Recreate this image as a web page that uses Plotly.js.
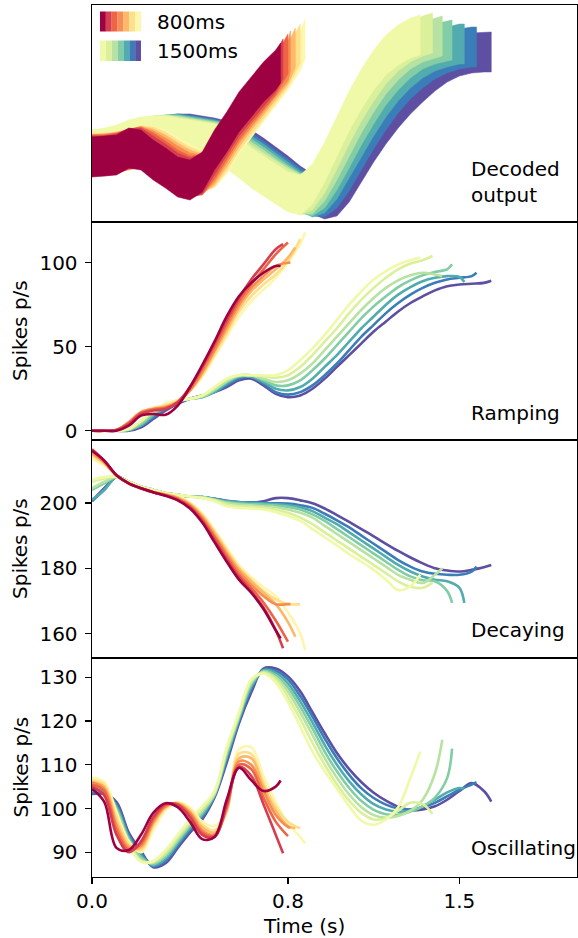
<!DOCTYPE html>
<html><head><meta charset="utf-8">
<script src="https://cdn.plot.ly/plotly-3.0.1.min.js"></script>
<style>html,body{margin:0;padding:0;background:#fff;} #chart{width:578px;height:938px;}</style>
</head><body><div id="chart"></div>
<script>
// ---- shared time grid (s) ----
const tGrid = [0,0.05,0.1,0.15,0.2,0.25,0.3,0.35,0.4,0.45,0.5,0.55,0.6,0.65,0.7,0.75,0.8,0.85,0.9,0.95,1.0,1.05,1.1,1.15,1.2,1.25,1.3,1.35,1.4,1.45,1.5,1.55,1.6];

// trial end times (s), ordered short -> long
const durations800  = [0.77,0.78,0.80,0.81,0.83,0.85,0.87];
const durations1500 = [1.34,1.39,1.43,1.47,1.52,1.57,1.63];
const colors800  = ['#9e0142','#d53e4f','#ee6445','#f88d52','#fdb869','#fee08b','#fff6ad'];
const colors1500 = ['#f0f9a8','#daf09a','#b7e2a2','#82cda5','#51abaf','#3b7db8','#5e4fa2'];
const legendLabels = ['800ms','1500ms'];
const panelLabels = ['Decoded<br>output','Ramping','Decaying','Oscillating'];
const yTitle = 'Spikes p/s';
const xTitle = 'Time (s)';
const xTickVals = [0,0.8,1.5];
const xTickText = ['0.0','0.8','1.5'];

// ---- Decoded output (arbitrary units), last value is at trial end ----
const decodeSpread = 20;
const decoded800 = [
 [65,66,67,74,72,62,54,45,42,50,72,90,110,125,140,152,159],
 [66,66,68,73,74,66,58,49,44,48,67,86,106,121,136,150,163],
 [67,67,69,73,75,69,61,52,46,47,63,83,102,118,133,147,168],
 [67,68,69,73,75,71,64,56,49,47,60,79,99,115,130,145,161,171],
 [68,68,70,72,76,73,67,59,52,48,57,75,95,112,127,142,158,174],
 [68,69,70,72,76,75,70,62,55,50,55,71,91,108,124,139,155,178],
 [69,69,70,72,76,76,72,65,58,52,54,68,88,105,121,136,152,171,183]
];
const decoded1500 = [
 [72,74,77,82,85,86,86,84,82,80,78,73,64,54,46,38,30,27,38,60,86,111,133,152,167,177,184,187],
 [72,73,76,80,84,86,87,85,83,81,79,75,67,57,49,41,33,27,32,49,73,98,121,141,158,171,180,186,189],
 [71,72,75,79,83,86,87,86,84,82,80,77,70,60,52,43,35,28,28,41,62,86,109,130,148,162,173,180,184,186],
 [70,71,74,78,82,85,87,87,85,83,81,78,72,63,55,46,37,29,26,34,52,74,97,118,137,152,164,173,178,181,182],
 [70,71,73,77,81,84,87,88,86,84,82,79,74,66,58,49,40,31,25,29,43,63,85,106,125,141,154,164,171,175,178,178],
 [69,70,72,76,80,83,86,88,87,85,83,80,76,69,61,52,43,34,26,25,34,51,72,93,112,129,143,154,163,169,173,175,175],
 [68,69,71,75,79,82,85,88,88,86,84,81,78,72,64,55,46,36,28,23,26,40,60,80,98,114,128,140,151,160,166,169,170,170]
];

// ---- Ramping (spikes/s) ----
const ramping800 = [
 [0,0,0,3,9,10,9.5,15,26,39,53,68,80,88,94,98,98],
 [0,0,0.5,4,10,12,13,17,26,38,52,66,79,90,99,108,111],
 [0,0,0.5,4.5,10.5,12.5,13.5,17,25,37,50,64,77,87,96,105,112],
 [0,0,0.5,5,11,13,14,17,24,35,48,62,75,85,92,98,100,100],
 [0,0,0.5,5,11,13,14.5,17.5,24,34,47,60,73,83,90,96,103,109],
 [0,0,0.5,5,11,13.5,15,18,24,33,45,58,71,80,87,93,101,114],
 [0,0,0.5,5,11,13.5,15,18,23.5,32,44,56,68,77,84,91,100,111,118]
];
const ramping1500 = [
 [0,0,0,1,6,12,16,18,19,21,26,31,33,33,33,33,36,42,49,57,66,75,83,90,95,99,101.5,103],
 [0,0,0,1,6,12,16,18,19,21,25.5,30.5,33,33,32.5,31.5,33,38,45,53,61,70,78,85,91,96,99.5,101.5,104],
 [0,0,0,1,5,11,15,18,19,20.5,24.5,29.5,33,33,31,29,30,34,40,48,56,64,72,79,85,89.5,92.5,94,93,92],
 [0,0,0,0.5,4,10,15,18,19,20,24,29,32.5,33,30,27,27,30,36,43,51,59,67,74,80,85.5,89.5,92.5,94.5,96,99],
 [0,0,0,0.5,3,9,14,17,19,20,23,28,32,32,29,25,24,26,31,38,45,53,61,68,75,81,85.5,89,91,92,91.5,88.5],
 [0,0,0,0.5,3,8,13,17,19,21,23,27,31,32,28,23,21.5,23,27,33,40,48,56,63,70,76,81,85,88,90,91,92,94],
 [0,0,0,0,2,7,12,16,19,21,23,26,30,31,27,22,20,21,25,31,38,45,52,59,65,71,76,80,83.5,86,87,87.5,88,89.3]
];

// ---- Decaying (spikes/s) ----
const decaying800 = [
 [216,213,208.5,206,204.5,203.3,202.2,200.8,198.3,194,188,182,176.5,172.5,167.5,161,158.5],
 [216.5,213,208.5,206,204.5,203.3,202.3,201,198.7,194.5,188.7,182.7,177.3,173,168,161,155.5],
 [216,212.8,208.5,206,204.5,203.3,202.4,201.2,199,195,189.5,183.5,178,174,169.5,164,157.5],
 [215.5,212.5,208.5,206,204.5,203.3,202.5,201.4,199.3,195.5,190,184.3,179,175,171.5,169,169,169],
 [215,212.3,208.5,206,204.5,203.4,202.6,201.6,199.6,196,190.8,185,179.8,176,172.5,169,163.5,159],
 [214.5,212,208.5,206,204.5,203.4,202.7,201.8,199.9,196.4,191.3,185.7,180.3,176.5,173,170.5,169,169],
 [213.5,211.5,208.5,206,204.5,203.5,202.8,202,200.2,196.8,191.8,186.3,181,177.3,174.2,171.5,166.5,160,155]
];
const decaying1500 = [
 [207,208,208,206.5,205,204,203,202.5,202,201.5,200.5,199,198.5,198.3,198,197.2,196,194.5,192,189.5,187,184.3,182,179.5,176.5,173.3,174.5,178],
 [206.5,207.5,208,206.5,205,204,203,202.5,202,201.5,200.8,199.5,199,198.8,198.5,198,197,195.5,193.5,191,188.5,186,183.5,181,178.5,176,174.3,174,175.6],
 [204.5,206.5,208,206.5,205,204,203,202.5,202,201.8,201,200,199.5,199.3,199,198.7,198,197,195.5,193,190.5,188,185.5,183,180.5,178,176.5,175.5,178,180],
 [204,206,208,206.5,205,204,203,202.5,202,201.8,201,200.3,199.8,199.6,199.5,199.2,198.8,198,196.5,194.5,192,189.5,187,184.5,182,179.5,177.5,176.3,176,173,169.4],
 [201,204,208,206.5,205,204,203,202.5,202,201.8,201.2,200.5,200.2,200,199.8,199.6,199.3,198.7,197.5,195.5,193.5,191,188.5,186,183.5,181,179,177.5,176.5,176,174,169.4],
 [200.6,204,208,206.5,205,204,203,202.5,202,201.8,201.3,200.7,200.3,200.2,200,199.9,199.8,199.3,198.5,196.7,194.7,192.5,190,187.5,185,182.5,180.5,179,178.3,178,178,179,180.5],
 [200.6,204.5,208,206.5,205,204,203,202.5,202,201.8,201.3,200.6,200.2,200,200.5,201.5,201.5,200.8,199.9,198.3,196.3,194.2,192,189.8,187.5,185.3,183.3,181.5,180,179.3,179,179.5,180.3,181]
];

// ---- Oscillating (spikes/s) ----
const oscillating800 = [
 [104.5,101.5,91,90.5,94,99,101.2,100.3,97,93,93.5,102,109.3,106.5,104,105,106.4],
 [105,103,94,90,92.5,98,101,100.8,98,94,93.5,101,109.5,107.5,101,94,89.8],
 [105.5,104,95,90.5,92,97.5,100.8,101,98.5,94.5,93.8,100.5,110,109,102.5,97,93.7],
 [106,104.5,96,91,91.5,97,100.5,101,99,95,94,100,110.8,110,104,98.5,95.8,95.6],
 [106,105,97,91.5,91,96.5,100.3,101.2,99.3,95.7,94.5,99.5,111.5,111.5,105,99.5,96,95.5],
 [106.5,105.5,98,92,90.5,96,100,101.3,99.8,96.3,95,99.5,112.5,112.5,106,100.5,97,95.5],
 [107,106,99,92.5,90,95,99.5,101.5,100.2,97,96,99.5,113.5,114,107.5,101.5,96.5,93.5,92]
];
const oscillating1500 = [
 [107,106,99,91.5,87.8,88,90.5,94,97.5,100.5,104,114,122,129.5,130.8,128.8,124.3,118.7,113,108.5,104.5,100.5,97.2,96.3,97.5,100.3,107,113],
 [106.5,105.5,99,92,88,87.8,90,93.5,97,100,103.7,113.5,121.6,129.2,131,129.5,125.5,120.5,115,110,105.5,101.8,99,97.5,97.8,99.5,101.3,101,98.8],
 [106,105,99.5,92.5,88.3,87.6,89.5,93,96.5,99.5,103.3,113,121.2,128.8,131.2,130,126.7,122,116.8,111.5,107,103.2,100.3,98.5,97.9,98.3,99.5,102,108,115.7],
 [105,104.5,100,93,88.8,87.3,89,92.5,96,99,103.2,112.3,120.8,128.3,131.4,130.5,127.7,123.3,118.3,113,108.5,104.7,101.7,99.7,98.7,98.6,99.3,100.5,102.5,107,113.7],
 [104,104,100.5,93.5,89.3,87,88.5,92,95.5,98.5,103,111.8,120.4,127.8,131.6,131,128.6,124.5,119.7,114.5,110,106.2,103.2,101,99.8,99.3,99.5,100.5,102,103.7,104.7,104.5],
 [103.5,103.5,101,94,89.8,86.8,88,91.5,95,98,102.8,111.2,120,127.2,131.8,131.5,129.5,125.7,121,116,111.5,107.7,104.6,102.4,100.9,100,99.8,100.3,101.3,102.8,104.3,105.5,106],
 [103.3,103.3,101.5,94.5,90.3,86.6,87.5,91,94.5,97.5,102.5,110.5,119.5,126.5,132,132,130.2,126.8,122,117.2,112.7,109,106,103.6,101.8,100.4,99.6,99.8,100.5,102,104,105.8,104,101.6]
];

// ---------- build ----------
const FONT = 'DejaVu Sans, Verdana, sans-serif';
const FS = 20;
const W = 578, H = 938, ML = 92, MR = 1, MT = 5, MB = 61;
const PW = W - ML - MR, PH = H - MT - MB;
const px2x = p => (p - ML) / PW;
const px2y = p => (H - MB - p) / PH;

function timesFor(vals, end) {
  const xs = tGrid.slice(0, vals.length - 1);
  xs.push(end);
  return xs;
}
const allDur = durations800.concat(durations1500);
const allCol = colors800.concat(colors1500);

const traces = [];
function addLines(set800, set1500, yaxis) {
  const all = set800.concat(set1500);
  for (let k = all.length - 1; k >= 0; k--) {
    traces.push({
      type: 'scatter', mode: 'lines', xaxis: yaxis.replace('y','x'), yaxis: yaxis,
      x: timesFor(all[k], allDur[k]), y: all[k],
      line: {color: allCol[k], width: 2.6, shape: 'spline', smoothing: 1},
      hoverinfo: 'skip', showlegend: false
    });
  }
}
function addBands(set800, set1500) {
  const all = set800.concat(set1500);
  for (let k = all.length - 1; k >= 0; k--) {
    const xs = timesFor(all[k], allDur[k]);
    const up = all[k].map(v => v + decodeSpread);
    const lo = all[k].map(v => v - decodeSpread);
    traces.push({
      type: 'scatter', mode: 'lines', xaxis: 'x', yaxis: 'y',
      x: xs.concat(xs.slice().reverse()), y: up.concat(lo.slice().reverse()),
      fill: 'toself', fillcolor: allCol[k],
      line: {color: allCol[k], width: 0.5, shape: 'linear'},
      hoverinfo: 'skip', showlegend: false
    });
  }
}
addBands(decoded800, decoded1500);
addLines(ramping800, ramping1500, 'y2');
addLines(decaying800, decaying1500, 'y3');
addLines(oscillating800, oscillating1500, 'y4');

const bounds = [5, 222, 440, 658, 877];
function dom(i) { return [px2y(bounds[i+1]), px2y(bounds[i])]; }

const axBase = {showline: true, linecolor: '#000', linewidth: 1.4, mirror: true, zeroline: false, showgrid: false,
  tickfont: {family: FONT, size: FS, color: '#000'}, ticks: 'outside', ticklen: 6, tickwidth: 1.3, tickcolor: '#000'};
const xCommon = Object.assign({}, axBase, {range: [0, 1.98], tickvals: xTickVals, ticktext: xTickText, fixedrange: true});

const layout = {
  width: W, height: H, margin: {l: ML, r: MR, t: MT, b: MB},
  paper_bgcolor: '#fff', plot_bgcolor: '#fff', showlegend: false,
  font: {family: FONT, size: FS, color: '#000'},
  xaxis:  Object.assign({}, xCommon, {anchor: 'y', showticklabels: false, ticks: ''}),
  xaxis2: Object.assign({}, xCommon, {anchor: 'y2', matches: 'x', showticklabels: false, ticks: ''}),
  xaxis3: Object.assign({}, xCommon, {anchor: 'y3', matches: 'x', showticklabels: false, ticks: ''}),
  xaxis4: Object.assign({}, xCommon, {anchor: 'y4', matches: 'x'}),
  yaxis:  Object.assign({}, axBase, {domain: dom(0), anchor: 'x', range: [0, 217], showticklabels: false, ticks: ''}),
  yaxis2: Object.assign({}, axBase, {domain: dom(1), anchor: 'x2', range: [-5.5, 124.2], tickvals: [0,50,100], ticklabelstandoff: 3}),
  yaxis3: Object.assign({}, axBase, {domain: dom(2), anchor: 'x3', range: [152.5, 219.3], tickvals: [160,180,200], ticklabelstandoff: 3}),
  yaxis4: Object.assign({}, axBase, {domain: dom(3), anchor: 'x4', range: [84.35, 134.4], tickvals: [90,100,110,120,130], ticklabelstandoff: 3}),
  shapes: [], annotations: []
};

// legend colour strips
const stripL = 100, stripW = 41;
[[colors800, 11.5, 31.5], [colors1500, 40.5, 61]].forEach(([cols, y0, y1]) => {
  cols.forEach((c, i) => {
    layout.shapes.push({type: 'rect', xref: 'paper', yref: 'paper',
      x0: px2x(stripL + i*stripW/7), x1: px2x(stripL + (i+1)*stripW/7),
      y0: px2y(y1), y1: px2y(y0), fillcolor: c, line: {width: 0}, layer: 'above'});
  });
});
const ann = (text, xp, yp, opts) => layout.annotations.push(Object.assign({
  text: text, xref: 'paper', yref: 'paper', x: px2x(xp), y: px2y(yp), showarrow: false,
  xanchor: 'left', yanchor: 'middle', align: 'left', font: {family: FONT, size: FS, color: '#000'}}, opts || {}));
ann(legendLabels[0], 155, 22);
ann(legendLabels[1], 155, 51);
ann(panelLabels[0], 469, 182.5);
ann(panelLabels[1], 469, 413);
ann(panelLabels[2], 469, 630);
ann(panelLabels[3], 469, 848);
[331, 549, 767.5].forEach(yc => ann(yTitle, 20, yc, {xanchor: 'center', textangle: -90}));
ann(xTitle, 304, 926, {xanchor: 'center'});

Plotly.newPlot('chart', traces, layout, {displayModeBar: false, staticPlot: true});
</script></body></html>
